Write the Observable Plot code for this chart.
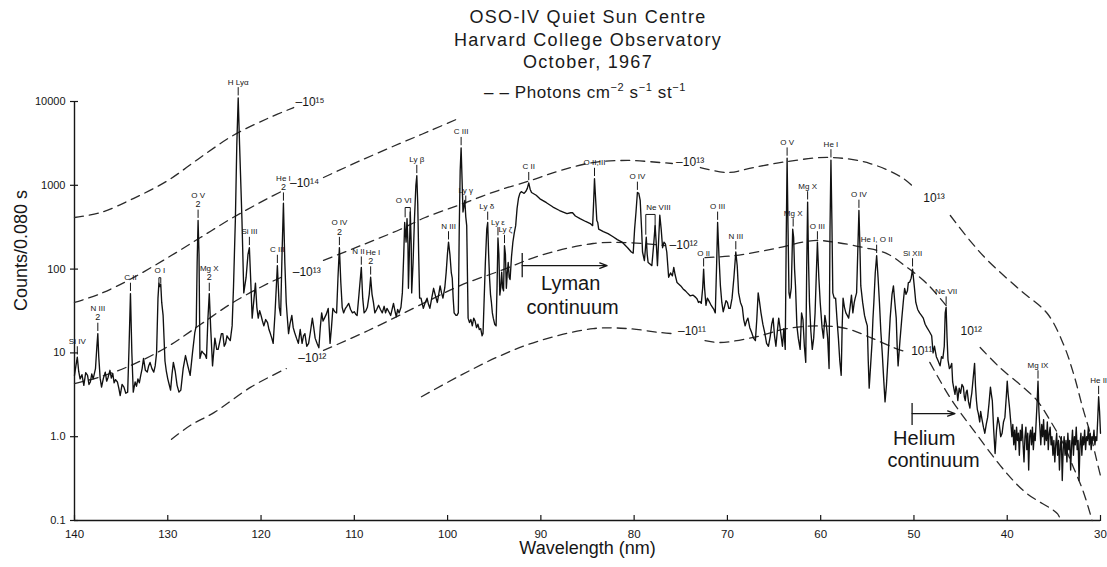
<!DOCTYPE html>
<html><head><meta charset="utf-8">
<script src="https://cdn.jsdelivr.net/npm/d3@7"></script>
<script src="https://cdn.jsdelivr.net/npm/@observablehq/plot@0.6"></script>
<style>
body{margin:0;background:#fff;}
#wrap{position:relative;width:1107px;height:567px;font-family:"Liberation Sans",Arial,Helvetica,sans-serif;color:#1a1a1a;overflow:hidden;}
#chart{position:absolute;left:0;top:0;}
#title{position:absolute;left:288px;width:600px;top:6px;text-align:center;font-size:18px;line-height:22.5px;letter-spacing:1.3px;}
#legend{position:absolute;left:484px;top:77px;font-size:17px;letter-spacing:0.6px;white-space:nowrap;line-height:20px;}
#legend sup{font-size:11px;}
</style></head>
<body>
<div id="wrap">
<div id="chart"></div>
<div id="title">OSO-IV Quiet Sun Centre<br>Harvard College Observatory<br>October, 1967</div>
<div id="legend">– – Photons cm<sup>−2</sup> s<sup>−1</sup> st<sup>−1</sup></div>
</div>
<script>
// ---- Tick values and labels ----
const xTicks = [140,130,120,110,100,90,80,70,60,50,40,30];
const xTickLabels = ["140","130","120","110","100","90","80","70","60","50","40","30"];
const yTicks = [0.1,1,10,100,1000,10000];
const yTickLabels = ["0.1","1.0","10","100","1000","10000"];

// ---- Measured spectrum: [wavelength nm, counts per 0.080 s] ----
const spectrumPoints = [
[140.0,5.4],[139.85,7],[139.7,8.9],[139.55,6],[139.4,4.9],[139.2,5.5],[139.0,4.1],[138.8,5.8],[138.6,5.4],[138.45,4.2],[138.3,4.5],[138.15,5.6],[138.0,4.9],[137.75,6.5],[137.6,12],[137.5,17],[137.4,9],[137.25,5],[137.1,3.9],[136.9,5.0],[136.7,5.9],[136.55,4.6],[136.4,5.1],[136.2,6.2],[136.05,5],[135.9,5.7],[135.75,4.4],[135.6,4.8],[135.4,4.5],[135.25,3.8],[135.1,3.1],[134.9,4.2],[134.7,3.9],[134.5,3.3],[134.3,3.4],[134.15,12],[134.0,51],[133.85,10],[133.7,3.4],[133.5,4.5],[133.35,4.0],[133.2,4.9],[133.05,4.4],[132.9,5.4],[132.75,6.5],[132.6,8.6],[132.4,6.2],[132.2,5.9],[132.05,7],[131.9,7.7],[131.7,6.5],[131.5,5.9],[131.35,7],[131.2,10],[131.05,45],[130.95,68],[130.85,62],[130.75,66],[130.65,40],[130.5,28],[130.3,8],[130.15,6],[130.0,4.9],[129.85,4.2],[129.7,3.6],[129.55,5.5],[129.4,7.7],[129.2,6],[129.0,4.1],[128.8,3.4],[128.6,3.6],[128.35,6.5],[128.1,9.3],[127.85,7],[127.6,5.4],[127.35,10],[127.1,17.5],[126.95,21],[126.85,120],[126.75,380],[126.65,150],[126.55,8.6],[126.35,10.5],[126.2,10],[126.0,9.5],[125.85,8.6],[125.7,25],[125.55,51],[125.4,20],[125.2,7],[124.95,15],[124.75,11],[124.6,11],[124.4,14],[124.25,17],[124.1,17],[123.95,12],[123.8,13],[123.65,16],[123.5,15],[123.3,14],[123.1,21],[122.95,63],[122.75,400],[122.6,3000],[122.45,11000],[122.3,3000],[122.15,900],[122.05,400],[121.85,52],[121.6,80],[121.4,150],[121.25,180],[121.1,70],[120.95,26],[120.75,45],[120.6,68],[120.45,35],[120.3,26],[120.15,32],[120.0,28],[119.85,24],[119.7,21],[119.5,25],[119.3,23],[119.15,19],[119.0,17],[118.85,15],[118.7,13],[118.5,30],[118.25,110],[118.05,35],[117.9,28],[117.75,150],[117.6,610],[117.45,120],[117.3,40],[117.2,28],[117.05,17],[116.9,22],[116.7,28],[116.55,20],[116.4,17.5],[116.2,15],[116.0,13],[115.8,19],[115.6,13],[115.45,16],[115.3,17],[115.1,12],[114.9,13],[114.7,18],[114.5,26],[114.35,20],[114.2,15],[114.0,13],[113.8,11.5],[113.65,20],[113.5,30],[113.35,24],[113.2,26],[113.0,29],[112.8,34],[112.6,13],[112.45,20],[112.3,34],[112.1,31],[111.9,30],[111.75,80],[111.6,180],[111.45,70],[111.3,35],[111.15,30],[110.95,34],[110.8,36],[110.6,39],[110.4,33],[110.2,30],[110.0,31],[109.85,29],[109.7,28],[109.5,50],[109.25,105],[109.1,45],[108.95,30],[108.75,32],[108.6,35],[108.4,50],[108.25,80],[108.1,50],[107.95,40],[107.8,30],[107.6,33],[107.4,37],[107.2,33],[107.0,30],[106.8,36],[106.65,30],[106.5,34],[106.3,31],[106.1,28],[105.95,33],[105.8,39],[105.65,32],[105.5,27],[105.35,33],[105.2,30],[105.0,35],[104.85,52],[104.7,150],[104.6,360],[104.5,250],[104.45,210],[104.35,400],[104.25,200],[104.2,59],[104.1,150],[104.0,480],[103.9,200],[103.85,52],[103.7,120],[103.55,400],[103.4,1000],[103.3,1300],[103.2,600],[103.1,150],[103.0,45],[102.85,45],[102.75,40],[102.6,34],[102.4,40],[102.2,45],[102.05,38],[101.9,34],[101.7,45],[101.5,59],[101.3,48],[101.1,40],[100.95,50],[100.8,63],[100.65,52],[100.5,45],[100.3,60],[100.15,92],[100.0,160],[99.9,210],[99.75,150],[99.6,90],[99.5,78],[99.4,45],[99.3,30],[99.1,28],[99.0,28],[98.85,30],[98.75,300],[98.65,1500],[98.55,2800],[98.45,1200],[98.35,480],[98.25,560],[98.15,660],[98.05,420],[97.95,330],[97.85,60],[97.8,26],[97.65,23],[97.5,25],[97.35,21],[97.2,26],[97.05,24],[96.9,20],[96.75,22],[96.6,19],[96.45,19.5],[96.3,16],[96.2,17],[96.1,37],[95.95,120],[95.8,300],[95.7,360],[95.6,150],[95.5,78],[95.4,50],[95.3,40],[95.2,30],[95.1,26],[94.95,22],[94.8,21],[94.7,60],[94.6,235],[94.5,150],[94.4,49],[94.3,60],[94.2,92],[94.1,60],[94.0,55],[93.9,190],[93.8,150],[93.7,59],[93.6,90],[93.5,120],[93.4,80],[93.3,75],[93.15,140],[93.0,210],[92.85,270],[92.7,330],[92.55,530],[92.4,700],[92.25,800],[92.1,840],[91.95,820],[91.8,800],[91.6,850],[91.45,920],[91.3,1070],[91.15,900],[91.0,820],[90.5,760],[90.1,690],[89.4,620],[88.7,550],[88.0,500],[87.2,460],[86.8,470],[86.6,470],[86.3,430],[85.8,400],[85.2,370],[84.7,350],[84.45,330],[84.35,600],[84.25,1200],[84.1,600],[84.0,380],[83.9,360],[83.8,300],[83.3,280],[82.8,265],[82.3,245],[81.8,225],[81.3,210],[80.7,180],[80.3,160],[80.1,155],[79.95,300],[79.8,480],[79.65,820],[79.5,800],[79.35,660],[79.2,300],[79.1,160],[78.9,126],[78.8,170],[78.7,240],[78.6,150],[78.5,120],[78.3,115],[78.1,110],[77.9,200],[77.75,330],[77.6,180],[77.5,110],[77.35,250],[77.25,440],[77.1,300],[76.95,180],[76.8,210],[76.65,200],[76.5,160],[76.3,80],[76.1,90],[75.9,83],[75.75,105],[75.6,85],[75.4,69],[75.2,66],[75.0,63],[74.75,58],[74.5,55],[74.3,52],[74.0,48],[73.7,49],[73.4,46],[73.25,44],[73.1,40],[72.95,41],[72.8,39],[72.65,60],[72.55,100],[72.45,60],[72.3,37],[72.15,45],[72.0,42],[71.8,38],[71.6,35],[71.45,33],[71.3,30],[71.15,120],[71.05,360],[70.9,140],[70.75,63],[70.6,40],[70.45,31],[70.3,36],[70.15,42],[70.0,40],[69.85,34],[69.7,34],[69.5,45],[69.3,80],[69.1,160],[68.95,110],[68.8,52],[68.6,40],[68.4,35],[68.25,25],[68.1,21],[67.95,24],[67.8,26],[67.6,20],[67.4,17.5],[67.2,15],[67.0,14],[66.85,25],[66.7,52],[66.55,40],[66.4,30],[66.2,22],[66.0,17.5],[65.8,13],[65.6,12],[65.4,16],[65.25,22],[65.1,26],[64.95,16],[64.8,12],[64.65,18],[64.5,26],[64.3,18],[64.1,12],[63.95,19.5],[63.8,11],[63.7,200],[63.6,2100],[63.5,300],[63.4,52],[63.3,45],[63.15,60],[63.0,300],[62.9,240],[62.8,100],[62.7,63],[62.55,21],[62.4,15],[62.2,11],[62.05,30],[61.9,25],[61.75,12],[61.6,7.7],[61.5,100],[61.4,630],[61.3,120],[61.2,40],[61.05,18],[60.9,11],[60.75,15],[60.6,30],[60.45,100],[60.35,210],[60.2,80],[60.05,40],[59.85,20],[59.7,15],[59.55,28],[59.4,22],[59.25,15],[59.1,6.5],[59.0,300],[58.9,2000],[58.8,400],[58.7,52],[58.55,45],[58.4,45],[58.25,25],[58.1,15],[57.95,8],[57.8,5.4],[57.7,20],[57.6,45],[57.45,35],[57.3,30],[57.15,28],[57.0,26],[56.85,35],[56.7,49],[56.55,30],[56.4,40],[56.3,45],[56.15,52],[56.0,200],[55.9,500],[55.8,200],[55.7,63],[55.5,40],[55.3,28],[55.15,24],[55.0,21],[54.9,8],[54.8,3.8],[54.65,7],[54.5,13],[54.4,25],[54.3,40],[54.15,90],[54.0,145],[53.85,80],[53.7,40],[53.55,18],[53.4,10],[53.25,5],[53.1,2.6],[52.95,4.1],[52.75,10],[52.55,26],[52.35,50],[52.2,63],[52.05,40],[51.9,26],[51.8,12],[51.7,7],[51.5,14],[51.3,26],[51.15,40],[51.0,59],[50.85,50],[50.7,55],[50.6,69],[50.45,70],[50.3,78],[50.15,100],[49.95,60],[49.8,40],[49.6,33],[49.4,30],[49.2,28],[49.0,26],[48.8,22],[48.6,20],[48.35,18],[48.1,16],[47.95,10],[47.8,12],[47.6,9],[47.4,8],[47.2,7],[47.05,9],[46.9,8.6],[46.75,12],[46.65,30],[46.55,35],[46.45,15],[46.35,8.2],[46.2,6.5],[46.1,6.7],[45.95,7.5],[45.85,4.5],[45.75,3.9],[45.6,3.2],[45.5,4.0],[45.4,3.6],[45.3,2.7],[45.15,3.8],[45.0,3.3],[44.85,4.2],[44.7,3.9],[44.6,3.0],[44.5,2.7],[44.4,3.4],[44.3,3.6],[44.15,2.6],[44.0,2.2],[43.9,2.8],[43.8,3.3],[43.65,5],[43.5,7.5],[43.4,4],[43.3,2.7],[43.2,2.1],[43.1,1.9],[42.95,1.5],[42.85,2.0],[42.7,1.6],[42.55,1.3],[42.4,1.1],[42.25,1.4],[42.1,1.7],[41.95,2.5],[41.8,3.9],[41.7,3.2],[41.6,2.7],[41.45,1.2],[41.3,0.63],[41.15,1.2],[41.0,1.7],[40.85,1.4],[40.7,1.0],[40.55,1.1],[40.4,1.5],[40.25,1.7],[40.1,3.0],[40.0,4.6],[39.9,3.2],[39.75,2.2],[39.6,1.4],
[39.5,1.0],[39.4,1.4],[39.3,0.8],[39.2,1.2],[39.1,0.7],[39.0,1.3],[38.9,0.9],[38.8,1.1],[38.7,0.6],[38.6,1.2],[38.5,0.9],[38.4,1.4],[38.3,0.8],[38.2,0.5],[38.1,1.0],[38.0,1.3],[37.9,0.7],[37.8,1.1],[37.7,0.4],[37.6,1.0],[37.5,1.2],[37.4,0.8],[37.3,1.3],[37.2,0.7],[37.1,1.1],[37.0,0.9],[36.9,1.5],[36.8,2.5],[36.7,4.6],[36.6,2.0],[36.5,1.3],[36.4,0.8],[36.3,1.4],[36.2,1.0],[36.1,1.6],[36.0,0.8],[35.9,1.2],[35.8,0.9],[35.7,1.5],[35.6,0.7],[35.5,1.1],[35.4,1.3],[35.3,0.8],[35.2,1.0],[35.1,0.6],[35.0,0.9],[34.9,0.5],[34.8,0.8],[34.7,1.1],[34.6,0.6],[34.5,0.9],[34.4,0.4],[34.3,0.8],[34.2,1.0],[34.1,0.3],[34.0,0.7],[33.9,1.0],[33.8,0.6],[33.7,0.9],[33.6,0.5],[33.5,1.1],[33.4,0.7],[33.3,0.9],[33.2,0.4],[33.1,0.8],[33.0,1.2],[32.9,0.6],[32.8,1.0],[32.7,0.8],[32.6,1.3],[32.5,0.7],[32.4,0.9],[32.3,0.3],[32.2,0.8],[32.1,1.1],[32.0,0.6],[31.9,1.0],[31.8,0.8],[31.7,1.2],[31.6,0.7],[31.5,1.0],[31.4,0.9],[31.3,1.3],[31.2,0.8],[31.1,1.1],[31.0,0.7],[30.9,1.0],[30.8,0.9],[30.7,1.2],[30.6,0.8],[30.5,1.0],[30.4,0.9],[30.3,1.6],[30.2,3.0],[30.1,2.0],[30.0,1.1]
];

// ---- Iso-photon curves (photons cm^-2 s^-1 st^-1); NaN marks a gap for the label ----
const iso15Lam = [140,137.2,133.7,130.0,126.5,123.0,119.3,116.5];
const iso15Counts = [413,473,695,1140,2150,3930,6270,8470];
const iso14Lam = [140,137.2,133.7,130.0,126.5,123.0,119.3,117.6,NaN,113.3,109.3,105.1,101.8,98.6];
const iso14Counts = [40,51,79,137,238,413,695,867,NaN,1240,1980,3160,4510,6440];
const iso13Lam = [140,137.2,133.7,130.0,126.5,123.0,119.3,117.6,NaN,113.3,109.3,105.1,102.4,98.6,94.9,91.1,87.9,84.4,80.7,77.2,75.9,NaN,72.9,70.0,67.2,63.6,59.0,54.7,51.1,49.9,NaN,46.1,44.0,42.1,38.6,35.7,34.0,32.9,31.9,31.1,30.4,30.0];
const iso13Counts = [4.3,5.2,7.3,11.9,21.8,40,67,82,NaN,127,191,297,413,590,843,1140,1500,1870,1980,1870,1820,NaN,1630,1420,1630,1920,2150,1820,1200,916,NaN,436,219,127,56,29.5,12.9,5.7,2.2,1.09,0.52,0.34];
const iso12Lam = [129.6,127.6,125.0,121.1,117.3,NaN,113.3,108.5,102.4,98.6,94.3,90.1,84.4,80.7,76.7,NaN,72.4,69.2,64.9,60.8,58.2,55.4,52.9,50.7,48.6,46.4,NaN,42.9,40.8,38.3,36.8,35.4,34.0,32.9,31.9,31.1,30.9];
const iso12Counts = [0.93,1.36,1.95,3.9,6.5,NaN,10.7,18.5,40,64,96,145,202,207,191,NaN,137,145,176,219,207,181,153,104,67,35,NaN,11.6,6.7,3.9,2.7,1.56,0.83,0.43,0.23,0.12,0.1];
const iso11Lam = [102.8,98.6,94.3,90.1,84.4,80.7,77.2,75.9,NaN,72.4,70.8,67.2,63.6,60.0,57.2,54.7,52.2,50.9,NaN,48.3,46.1,43.6,40.0,37.9,34.6,34.3];
const iso11Counts = [3.0,5.4,9.3,14,19.5,19.5,17.5,17,NaN,14,13.3,15.3,19.5,21,19.5,15.3,11.6,10.3,NaN,7.7,2.9,1.19,0.36,0.21,0.12,0.1];

const isoLabelText = ["–10¹⁵","–10¹⁴","–10¹³","–10¹²","–10¹³","–10¹²","–10¹¹","10¹³","10¹²","10¹¹"];
const isoLabelLam = [116.3,116.9,116.6,116.0,75.5,76.2,75.3,49.0,45.0,50.3];
const isoLabelCounts = [9700,1050,91,8.6,1870,195,18,695,18,10.4];

// ---- Line identifications ----
const lineNames = ["Si IV","N III","C II","H Lyα","O V","Mg X","Si III","C III","He I","O IV","N II","He I","Ly β","N III","C III","Ly γ","Ly δ","Ly ε","Ly ζ","C II","O II,III","O IV","O II","O III","N III","O V","Mg X","Mg X","O III","He I","O IV","He I, O II","Si XII","Ne VII","Mg IX","He II"];
const lineLam = [139.7,137.5,134.0,122.45,126.75,125.55,121.25,118.25,117.6,111.6,109.25,108.25,103.3,99.9,98.55,98.05,95.7,94.6,93.9,91.3,84.25,79.65,72.55,71.05,69.1,63.6,62.95,61.4,60.35,58.9,55.9,54.0,50.15,46.55,36.7,30.2];
const lineTextLam = [139.7,137.5,134.0,122.45,126.75,125.55,121.25,118.25,117.6,111.6,109.55,108.0,103.3,99.9,98.55,98.05,95.8,94.6,93.8,91.3,84.25,79.65,72.55,71.05,69.1,63.6,62.95,61.4,60.35,58.9,55.9,54.0,50.15,46.55,36.7,30.2];
const linePeak = [8.9,17,51,11000,380,51,180,110,610,180,105,80,1300,210,2800,560,360,235,190,1070,1200,820,100,360,160,2100,300,630,210,2000,500,145,100,35,4.6,3.0];
const lineOrder = ["","2","","","2","2","","","2","2","","2","","","","","","","","","","","","","","","","","","","","","","","",""];

// brackets over blended pairs
const bracketNames = ["O I","O VI","Ne VIII"];
const bracketLam1 = [130.95,104.55,78.75];
const bracketLam2 = [130.75,104.0,77.75];
const bracketTop = [79,543,449];
const bracketBottom = [68,420,260];
const bracketLabelLam = [130.85,104.7,77.4];

// continuum edges
const edgeLam = [92.0,50.2];
const edgeLow = [79,1.36];
const edgeHigh = [153,2.49];
const edgeArrowTo = [82.9,45.6];
const edgeArrowCounts = [110,1.89];
const continuumText = ["Lyman","continuum","Helium","continuum"];
const continuumLam = [86.8,86.6,48.9,47.9];
const continuumCounts = [67,35,0.95,0.52];

// ---- Build tables ----
const spectrum = spectrumPoints.map(([lam, c]) => ({lam, c}));
const isoRows = (lams, counts, name) => lams.map((lam, i) => ({lam, c: counts[i], curve: name}));
const iso = [
  ...isoRows(iso15Lam, iso15Counts, "15"),
  ...isoRows(iso14Lam, iso14Counts, "14"),
  ...isoRows(iso13Lam, iso13Counts, "13"),
  ...isoRows(iso12Lam, iso12Counts, "12"),
  ...isoRows(iso11Lam, iso11Counts, "11")
];
const isoLabels = isoLabelText.map((t, i) => ({t, lam: isoLabelLam[i], c: isoLabelCounts[i]}));
const lines = lineNames.map((name, i) => ({name, lam: lineLam[i], tlam: lineTextLam[i], peak: linePeak[i], order: lineOrder[i]}));
const brackets = bracketNames.flatMap((n, i) => [
  {b: n, lam: bracketLam1[i], c: bracketBottom[i]},
  {b: n, lam: bracketLam1[i], c: bracketTop[i]},
  {b: n, lam: bracketLam2[i], c: bracketTop[i]},
  {b: n, lam: bracketLam2[i], c: bracketBottom[i]}
]);
const bracketLabels = bracketNames.map((n, i) => ({name: n, lam: bracketLabelLam[i], c: bracketTop[i]}));
const edges = edgeLam.map((lam, i) => ({lam, lo: edgeLow[i], hi: edgeHigh[i], to: edgeArrowTo[i], ac: edgeArrowCounts[i]}));
const contLabels = continuumText.map((t, i) => ({t, lam: continuumLam[i], c: continuumCounts[i]}));
const yLabelOf = new Map(yTicks.map((v, i) => [v, yTickLabels[i]]));
const xLabelOf = new Map(xTicks.map((v, i) => [v, xTickLabels[i]]));

const FONT = '"Liberation Sans", Arial, Helvetica, sans-serif';
const ink = "#161616";

const chart = Plot.plot({
  width: 1107,
  height: 567,
  marginLeft: 74,
  marginRight: 7,
  marginTop: 101,
  marginBottom: 47,
  x: {domain: [140, 30], axis: null},
  y: {type: "log", domain: [0.1, 10000], axis: null},
  style: {fontFamily: FONT, background: "transparent", color: ink, overflow: "visible"},
  marks: [
    // axes
    Plot.ruleX([140], {stroke: ink, strokeWidth: 1.4}),
    Plot.ruleY([0.1], {stroke: ink, strokeWidth: 1.4}),
    Plot.ruleY(yTicks, {stroke: ink, strokeWidth: 1.2, insetLeft: -4, insetRight: 1022}),
    Plot.ruleX(xTicks, {stroke: ink, strokeWidth: 1.2, insetTop: 414, insetBottom: -1}),
    Plot.axisY(yTicks, {tickSize: 0, tickPadding: 9, fontSize: 11, tickFormat: d => yLabelOf.get(d), letterSpacing: 1}),
    Plot.axisX(xTicks, {tickSize: 0, tickPadding: 9, fontSize: 11.5, tickFormat: d => xLabelOf.get(d)}),
    Plot.text(["Counts/0.080 s"], {frameAnchor: "left", rotate: -90, dx: -53, fontSize: 18, letterSpacing: 1, fill: ink}),
    Plot.text(["Wavelength (nm)"], {frameAnchor: "bottom", dy: 33, fontSize: 18, letterSpacing: 1, fill: ink}),
    // iso-photon dashed curves
    Plot.line(iso, {x: "lam", y: "c", z: "curve", stroke: "#2a2a2a", strokeWidth: 1.3, strokeDasharray: "9,6", curve: "catmull-rom"}),
    Plot.text(isoLabels, {x: "lam", y: "c", text: "t", textAnchor: "start", fontSize: 12, fill: ink}),
    // spectrum
    Plot.line(spectrum, {x: "lam", y: "c", stroke: "#111", strokeWidth: 1.35, strokeLinejoin: "round"}),
    // line identifications
    Plot.ruleX(lines, {x: "lam", y1: d => d.peak * 1.06, y2: d => d.peak * 1.33, stroke: ink, strokeWidth: 1}),
    Plot.text(lines.filter(d => !d.order), {x: "tlam", y: "peak", text: "name", dy: -16, fontSize: 8, fill: ink}),
    Plot.text(lines.filter(d => d.order), {x: "tlam", y: "peak", text: "name", dy: -25, fontSize: 8, fill: ink}),
    Plot.text(lines.filter(d => d.order), {x: "lam", y: "peak", text: "order", dy: -16, fontSize: 9, fill: ink}),
    Plot.line(brackets, {x: "lam", y: "c", z: "b", stroke: ink, strokeWidth: 1}),
    Plot.text(bracketLabels, {x: "lam", y: "c", text: "name", dy: -7, fontSize: 8, fill: ink}),
    // continuum edges
    Plot.ruleX(edges, {x: "lam", y1: "lo", y2: "hi", stroke: ink, strokeWidth: 1.3}),
    Plot.arrow(edges, {x1: "lam", x2: "to", y1: "ac", y2: "ac", stroke: ink, strokeWidth: 1.3, headLength: 9, headAngle: 40}),
    Plot.text(contLabels, {x: "lam", y: "c", text: "t", fontSize: 20, fill: ink})
  ]
});
document.getElementById("chart").appendChild(chart);
</script>
</body></html>
